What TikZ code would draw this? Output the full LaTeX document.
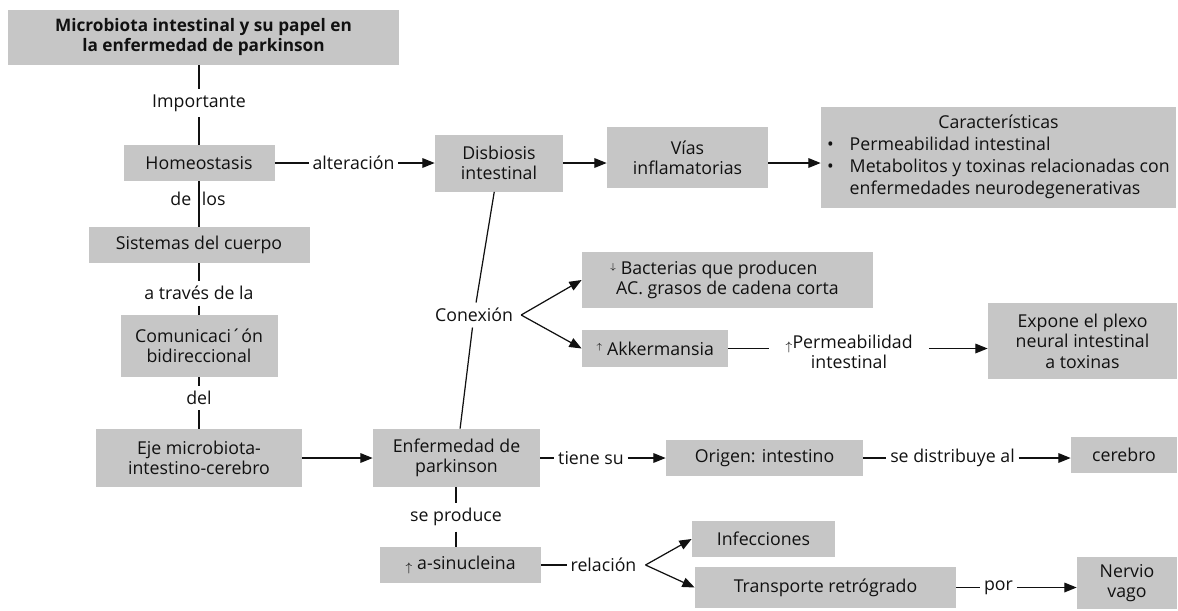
\documentclass[tikz,border=0pt]{standalone}
\usepackage{fontspec}
\setmainfont{Open Sans}
\usepackage{tikz}
\usetikzlibrary{arrows.meta}
\definecolor{boxgray}{HTML}{C6C6C6}
\definecolor{ink}{HTML}{111111}
\newcommand{\uparr}{\raisebox{0.55ex}{$\scriptscriptstyle\uparrow$}}
\newcommand{\downarr}{\raisebox{0.55ex}{$\scriptscriptstyle\downarrow$}}
\newcommand{\uparrb}{\raisebox{-0.2ex}{$\scriptstyle\uparrow$}}
\tikzset{
  box/.style={fill=boxgray, text=ink, inner sep=2pt, align=center, font=\fontsize{10.1}{11.6}\selectfont},
  sz/.style 2 args={minimum width=#1*0.02cm, minimum height=#2*0.02cm},
  lbl/.style={text=ink, inner xsep=2pt, inner ysep=3pt, align=center, font=\fontsize{10.1}{11.6}\selectfont},
  conn/.style={draw=ink, line width=0.7pt},
  arr/.style={conn, -{Triangle[length=7pt,width=5.5pt]}},
}

\begin{document}
\begin{tikzpicture}[x=0.02cm, y=-0.02cm]
  \useasboundingbox (0,0) rectangle (1178,610);

  % left column
  \node[box, sz={391}{55}, font=\fontsize{9.8}{11.4}\selectfont\bfseries] (title) at (203.5,37.5) {Microbiota intestinal y su papel en\\la enfermedad de parkinson};
  \node[lbl] (importante) at (199,103) {Importante};
  \node[box, sz={151}{36}] (homeo) at (199,163) {Homeostasis};
  \node[lbl] (delos) at (198,199) {de\hspace{6pt}los};
  \node[box, sz={221}{36}] (sist) at (199,245) {Sistemas del cuerpo};
  \node[lbl] (atraves) at (199,293) {a través de la};
  \node[box, sz={157}{62}] (comun) at (199,346) {Comunicaci´ón\\bidireccional};
  \node[lbl] (del) at (199,398) {del};
  \node[box, sz={206}{58}] (eje) at (199,458) {Eje microbiota-\\intestino-cerebro};

  \draw[conn] (importante) -- (importante |- title.south);
  \draw[conn] (importante) -- (homeo);
  \draw[conn] (homeo) -- (sist);
  \draw[conn] (sist) -- (atraves) -- (comun);
  \draw[conn] (comun) -- (del) -- (eje);

  % top row
  \node[lbl] (alter) at (353.5,163) {alteración};
  \node[box, sz={128}{57}] (disb) at (499,163) {Disbiosis\\intestinal};
  \node[box, sz={161}{61}] (vias) at (687.5,157.5) {Vías\\inflamatorias};
  \node[box, sz={355}{101}] (carac) at (998.5,157.5) {\def\arraystretch{1.08}%
    \begin{tabular}{@{}c@{\hspace{9pt}}l@{}}
      \multicolumn{2}{c}{Características}\\
      •&Permeabilidad intestinal\\
      •&Metabolitos y toxinas relacionadas con\\
      &enfermedades neurodegenerativas
    \end{tabular}};

  \draw[conn] (homeo) -- (alter);
  \draw[arr] (alter) -- (disb);
  \draw[arr] (disb.east) -- (disb.east -| vias.west);
  \draw[arr] (vias.east |- disb.east) -- (carac.west |- disb.east);

  % conexion
  \node[lbl] (conex) at (474,315) {Conexión};
  \coordinate (conexfork) at ([xshift=2.5pt]conex.east);
  \node[box, sz={291}{56}] (bact) at (727.5,280) {\makebox[134pt][l]{\downarr\ Bacterias que producen}\\AC. grasos de cadena corta};
  \node[box, sz={146}{37}] (akk) at (655,348.5) {\uparr\ Akkermansia};
  \node[lbl, inner xsep=9pt] (permeab) at (849,352) {\uparrb Permeabilidad\\intestinal};
  \node[box, sz={189}{76}] (expone) at (1082.5,341) {Expone el plexo\\neural intestinal\\a toxinas};

  \draw[arr] (conexfork) -- (bact.west);
  \draw[arr] (conexfork) -- (akk.west);
  \draw[conn] (akk.east) -- (akk.east -| permeab.west);
  \draw[arr] (permeab.east |- akk.east) -- (expone.west |- akk.east);

  % bottom rows
  \node[box, sz={167}{58}] (enf) at (456.5,458) {Enfermedad de\\parkinson};
  \node[lbl] (tiene) at (591,458) {tiene su};
  \node[box, sz={197}{36}] (origen) at (764.5,458) {Origen: intestino};
  \node[lbl] (sedist) at (952.5,458) {se distribuye al};
  \node[box, sz={106}{36}] (cerebro) at (1124,455) {cerebro};

  \draw[conn] (disb) -- (conex) -- (enf);
  \draw[arr] (eje) -- (enf);
  \draw[conn] (enf) -- (tiene);
  \draw[arr] (tiene) -- (origen);
  \draw[conn] (origen) -- (sedist);
  \draw[arr] (sedist) -- (sedist -| cerebro.west);

  \node[lbl] (seprod) at (456,517) {se produce};
  \node[box, sz={161}{36}] (asin) at (460.5,565) {\uparrb\ a-sinucleina};
  \node[lbl] (relac) at (603.5,565) {relación};
  \coordinate (relfork) at ([xshift=3pt]relac.east);
  \node[box, sz={143}{36}] (infec) at (763.5,539) {Infecciones};
  \node[box, sz={261}{41}] (transp) at (825.5,587.5) {Transporte retrógrado};
  \node[lbl] (por) at (998.5,587.5) {por};
  \node[box, sz={100}{52}] (nervio) at (1127,583) {Nervio\\vago};

  \draw[conn] (seprod) -- (seprod |- enf.south);
  \draw[conn] (seprod) -- (seprod |- asin.north);
  \draw[conn] (asin.east) -- (relac.west |- asin.east);
  \draw[arr] (relfork) -- (infec.west);
  \draw[arr] (relfork) -- (transp.west);
  \draw[conn] (transp) -- (por);
  \draw[arr] (por) -- (por -| nervio.west);
\end{tikzpicture}
\end{document}
